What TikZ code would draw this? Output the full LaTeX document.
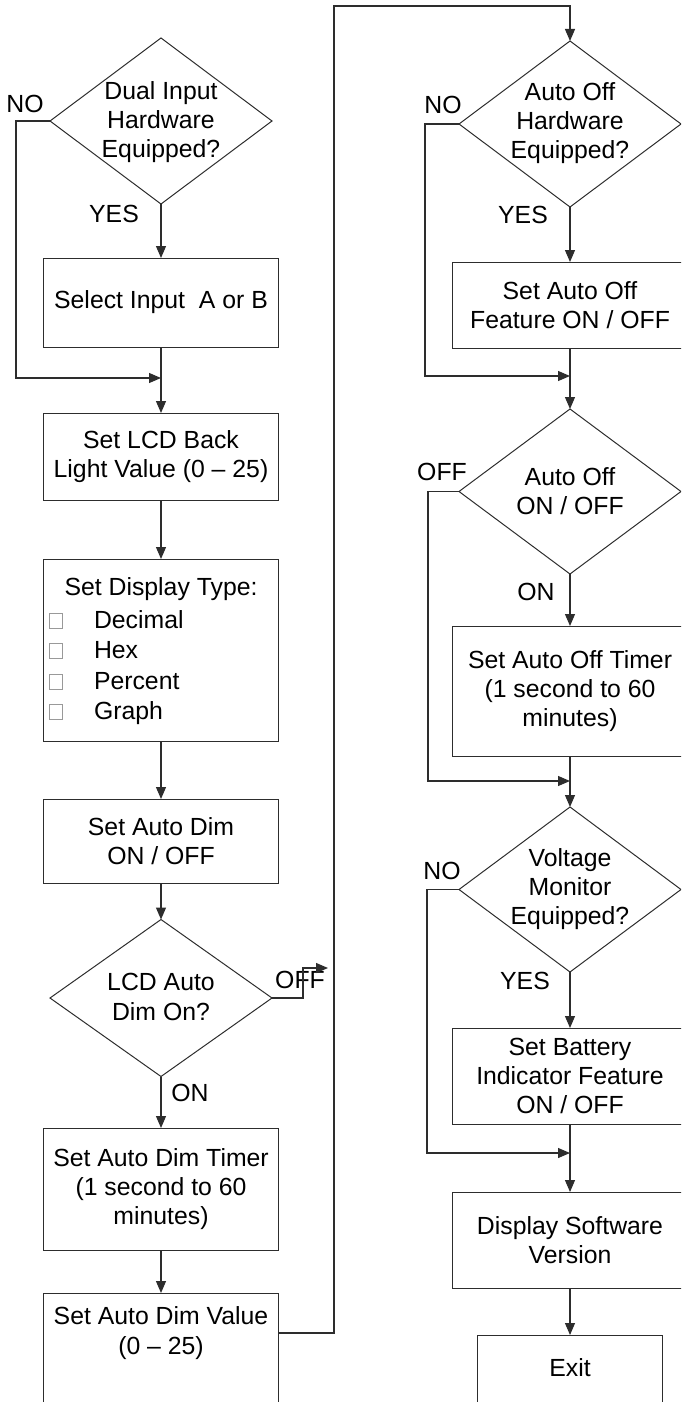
\documentclass[tikz,border=0pt]{standalone}
\usepackage{fontspec}
\setmainfont{Liberation Sans}
\usetikzlibrary{shapes.geometric,arrows.meta,calc}
\definecolor{ln}{RGB}{45,45,45}
\begin{document}
\begin{tikzpicture}[x=0.5pt,y=-0.5pt,
  every node/.style={font=\fontsize{12.4pt}{14.6pt}\selectfont, inner sep=0pt, outer sep=0pt},
  box/.style={draw=ln, line width=0.5pt, rectangle, minimum width=117.5pt, align=center},
  rbox/.style={box, minimum width=118pt},
  dia/.style={draw=ln, diamond, minimum width=111pt, minimum height=83pt, line width=0.5pt},
  txt/.style={align=center},
  conn/.style={line width=0.6pt, draw=ln},
  arr/.style={conn, -{Triangle[length=6pt,width=5pt]}},
  sq/.style={draw=gray!80, line width=0.4pt}
]
\useasboundingbox (0,0) rectangle (681,1402);
\clip (0,0) rectangle (681,1402);

% ---------- left column ----------
\node[dia] (d1) at (161,121) {};
\node[txt] (d1t) at (161,122) {Dual Input\\Hardware\\Equipped?};
\node[box, minimum height=44.5pt] (sel) at (161,302.5) {Select Input\ \ A or B};
\node[box, minimum height=43.5pt] (lcd) at (161,456.5) {Set LCD Back\\Light Value (0 -- 25)};
\node[box, minimum height=91pt] (disp) at (161,650) {};
\node (dt) at (161,589) {Set Display Type:};
\node[anchor=base west] (i1) at (94,628) {Decimal};
\node[anchor=base west] (i2) at (94,658.5) {Hex};
\node[anchor=base west] (i3) at (94,689) {Percent};
\node[anchor=base west] (i4) at (94,719.5) {Graph};
\draw[sq] (49,628) rectangle (62,613);
\draw[sq] (49,658.5) rectangle (62,643.5);
\draw[sq] (49,689) rectangle (62,674);
\draw[sq] (49,719.5) rectangle (62,704.5);
\node[box, minimum height=42pt] (adim) at (161,841) {Set Auto Dim\\ON / OFF};
\node[dia, minimum height=78.5pt] (d2) at (161,998) {};
\node[txt] (d2t) at (161,997) {LCD Auto\\Dim On?};
\node[box, minimum height=61pt] (adt) at (161,1189) {Set Auto Dim Timer\\(1 second to 60\\minutes)};
\node[box, anchor=north, minimum height=80pt] (adv) at (161,1293) {};
\node[txt] (advt) at (161,1333) {Set Auto Dim Value\\(0 -- 25)};

% ---------- right column ----------
\node[dia] (d3) at (570,124) {};
\node[txt] (d3t) at (570,123) {Auto Off\\Hardware\\Equipped?};
\node[rbox, minimum height=43pt] (aof) at (570,305) {Set Auto Off\\Feature ON / OFF};
\node[dia, minimum height=82.5pt] (d4) at (570,491.5) {};
\node[txt] (d4t) at (570,491.5) {Auto Off\\ON / OFF};
\node[rbox, minimum height=65pt] (aot) at (570,691) {Set Auto Off Timer\\(1 second to 60\\minutes)};
\node[dia, minimum height=82.5pt] (d5) at (570,889.5) {};
\node[txt] (d5t) at (570,889) {Voltage\\Monitor\\Equipped?};
\node[rbox, minimum height=48pt] (bat) at (570,1076) {Set Battery\\Indicator Feature\\ON / OFF};
\node[rbox, minimum height=48pt] (dsv) at (570,1240) {Display Software\\Version};
\node[box, anchor=north, minimum width=92.5pt, minimum height=80pt] (exb) at (570,1335) {};
\node[txt] (ext) at (570,1368) {Exit};

% ---------- labels ----------
\node (l1) at (25,104) {NO};
\node (l2) at (114,214) {YES};
\node (l3) at (300,980) {OFF};
\node (l4) at (190,1093) {ON};
\node (l5) at (443,105) {NO};
\node (l6) at (523,215) {YES};
\node (l7) at (442,472) {OFF};
\node (l8) at (536,592) {ON};
\node (l9) at (442,871) {NO};
\node (l10) at (525,981) {YES};

% ---------- helper coordinates ----------
\coordinate (n1) at (16,378);
\coordinate (m1) at (161,378);
\coordinate (offk) at (303,968);
\coordinate (offend) at (328,968);
\coordinate (c1) at (334,6);
\coordinate (n2) at (425,376);
\coordinate (m2) at (570,376);
\coordinate (n3) at (428,781);
\coordinate (m3) at (570,781);
\coordinate (n4) at (427,1153);
\coordinate (m4) at (570,1153);

% ---------- connectors left ----------
\draw[arr] (d1.south) -- (sel.north);
\draw[arr] (d1.west) -| (n1) -- (m1);
\draw[arr] (sel.south) -- (lcd.north);
\draw[arr] (lcd.south) -- (disp.north);
\draw[arr] (disp.south) -- (adim.north);
\draw[arr] (adim.south) -- (d2.north);
\draw[arr] (d2.east) -| (offk) -- (offend);
\draw[arr] (d2.south) -- (adt.north);
\draw[arr] (adt.south) -- (adv.north);
\draw[arr] (adv.east |- advt.center) -| (c1) -| (d3.north);

% ---------- connectors right ----------
\draw[arr] (d3.south) -- (aof.north);
\draw[arr] (d3.west) -| (n2) -- (m2);
\draw[arr] (aof.south) -- (d4.north);
\draw[arr] (d4.west) -| (n3) -- (m3);
\draw[arr] (d4.south) -- (aot.north);
\draw[arr] (aot.south) -- (d5.north);
\draw[arr] (d5.west) -| (n4) -- (m4);
\draw[arr] (d5.south) -- (bat.north);
\draw[arr] (bat.south) -- (dsv.north);
\draw[arr] (dsv.south) -- (exb.north);
\end{tikzpicture}
\end{document}
